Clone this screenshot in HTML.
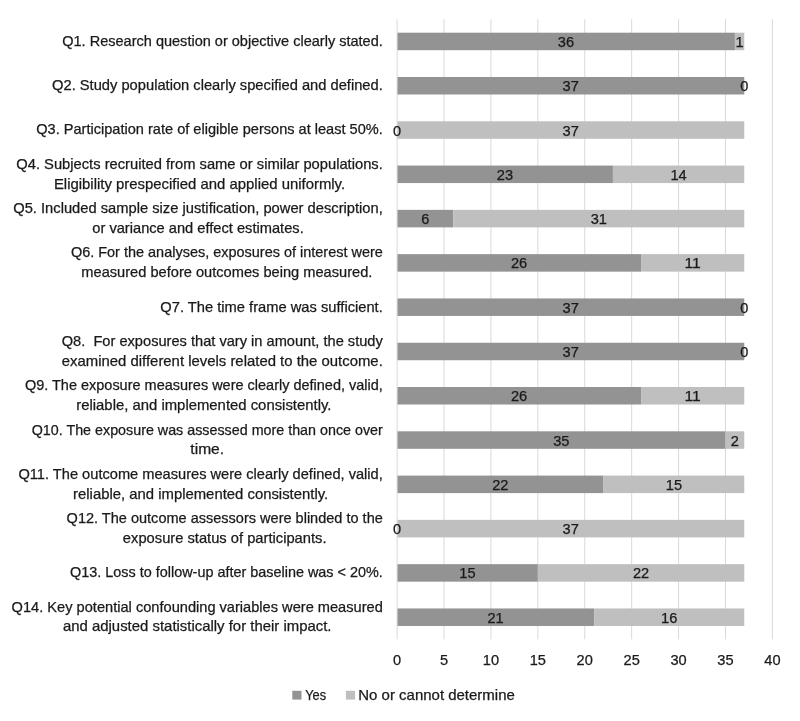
<!DOCTYPE html>
<html lang="en"><head><meta charset="utf-8"><title>Quality assessment chart</title>
<style>
html,body{margin:0;padding:0;background:#fff}
svg{display:block}
text{font-family:"Liberation Sans",Arial,sans-serif;font-size:14.1px;fill:#1a1a1a;stroke:#1a1a1a;stroke-width:0.25px;white-space:pre}
</style></head><body>
<svg width="800" height="721" viewBox="0 0 800 721">
<rect width="800" height="721" fill="#fff"/>

<g stroke="#d9d9d9" stroke-width="1">
<line x1="397.10" y1="19.30" x2="397.10" y2="639.36"/>
<line x1="444.01" y1="19.30" x2="444.01" y2="639.36"/>
<line x1="490.93" y1="19.30" x2="490.93" y2="639.36"/>
<line x1="537.85" y1="19.30" x2="537.85" y2="639.36"/>
<line x1="584.76" y1="19.30" x2="584.76" y2="639.36"/>
<line x1="631.67" y1="19.30" x2="631.67" y2="639.36"/>
<line x1="678.59" y1="19.30" x2="678.59" y2="639.36"/>
<line x1="725.50" y1="19.30" x2="725.50" y2="639.36"/>
<line x1="772.42" y1="19.30" x2="772.42" y2="639.36"/>
</g>
<rect x="397.50" y="32.70" width="337.39" height="17.5" fill="#939393"/>
<rect x="734.89" y="32.70" width="9.38" height="17.5" fill="#bfbfbf"/>
<text x="557.87" y="46.95" textLength="16.25" lengthAdjust="spacingAndGlyphs">36</text>
<text x="735.52" y="46.95" textLength="8.12" lengthAdjust="spacingAndGlyphs">1</text>
<text x="62.22" y="45.84" textLength="320.58" lengthAdjust="spacingAndGlyphs">Q1. Research question or objective clearly stated.</text>
<rect x="397.50" y="76.98" width="346.77" height="17.5" fill="#939393"/>
<text x="562.56" y="91.23" textLength="16.25" lengthAdjust="spacingAndGlyphs">37</text>
<text x="740.21" y="91.23" textLength="8.12" lengthAdjust="spacingAndGlyphs">0</text>
<text x="52.05" y="90.14" textLength="330.75" lengthAdjust="spacingAndGlyphs">Q2. Study population clearly specified and defined.</text>
<rect x="397.50" y="121.28" width="346.77" height="17.5" fill="#bfbfbf"/>
<text x="393.04" y="135.53" textLength="8.12" lengthAdjust="spacingAndGlyphs">0</text>
<text x="562.56" y="135.53" textLength="16.25" lengthAdjust="spacingAndGlyphs">37</text>
<text x="36.28" y="134.43" textLength="346.52" lengthAdjust="spacingAndGlyphs">Q3. Participation rate of eligible persons at least 50%.</text>
<rect x="397.50" y="165.56" width="215.41" height="17.5" fill="#939393"/>
<rect x="612.91" y="165.56" width="131.36" height="17.5" fill="#bfbfbf"/>
<text x="496.88" y="179.81" textLength="16.25" lengthAdjust="spacingAndGlyphs">23</text>
<text x="670.46" y="179.81" textLength="16.25" lengthAdjust="spacingAndGlyphs">14</text>
<text x="16.27" y="168.91" textLength="366.53" lengthAdjust="spacingAndGlyphs">Q4. Subjects recruited from same or similar populations.</text>
<text x="53.95" y="188.52" textLength="291.17" lengthAdjust="spacingAndGlyphs">Eligibility prespecified and applied uniformly.</text>
<rect x="397.50" y="209.86" width="55.90" height="17.5" fill="#939393"/>
<rect x="453.40" y="209.86" width="290.87" height="17.5" fill="#bfbfbf"/>
<text x="421.19" y="224.11" textLength="8.12" lengthAdjust="spacingAndGlyphs">6</text>
<text x="590.71" y="224.11" textLength="16.25" lengthAdjust="spacingAndGlyphs">31</text>
<text x="13.22" y="213.21" textLength="369.58" lengthAdjust="spacingAndGlyphs">Q5. Included sample size justification, power description,</text>
<text x="92.30" y="232.81" textLength="211.42" lengthAdjust="spacingAndGlyphs">or variance and effect estimates.</text>
<rect x="397.50" y="254.14" width="243.56" height="17.5" fill="#939393"/>
<rect x="641.06" y="254.14" width="103.21" height="17.5" fill="#bfbfbf"/>
<text x="510.95" y="268.39" textLength="16.25" lengthAdjust="spacingAndGlyphs">26</text>
<text x="684.54" y="268.39" textLength="16.25" lengthAdjust="spacingAndGlyphs">11</text>
<text x="70.93" y="257.49" textLength="311.88" lengthAdjust="spacingAndGlyphs">Q6. For the analyses, exposures of interest were</text>
<text x="81.36" y="277.09" textLength="291.00" lengthAdjust="spacingAndGlyphs">measured before outcomes being measured.</text>
<rect x="397.50" y="298.44" width="346.77" height="17.5" fill="#939393"/>
<text x="562.56" y="312.69" textLength="16.25" lengthAdjust="spacingAndGlyphs">37</text>
<text x="740.21" y="312.69" textLength="8.12" lengthAdjust="spacingAndGlyphs">0</text>
<text x="160.39" y="311.58" textLength="222.41" lengthAdjust="spacingAndGlyphs">Q7. The time frame was sufficient.</text>
<rect x="397.50" y="342.73" width="346.77" height="17.5" fill="#939393"/>
<text x="562.56" y="356.98" textLength="16.25" lengthAdjust="spacingAndGlyphs">37</text>
<text x="740.21" y="356.98" textLength="8.12" lengthAdjust="spacingAndGlyphs">0</text>
<text x="61.74" y="346.07" textLength="321.06" lengthAdjust="spacingAndGlyphs">Q8.  For exposures that vary in amount, the study</text>
<text x="61.77" y="365.68" textLength="321.00" lengthAdjust="spacingAndGlyphs">examined different levels related to the outcome.</text>
<rect x="397.50" y="387.01" width="243.56" height="17.5" fill="#939393"/>
<rect x="641.06" y="387.01" width="103.21" height="17.5" fill="#bfbfbf"/>
<text x="510.95" y="401.26" textLength="16.25" lengthAdjust="spacingAndGlyphs">26</text>
<text x="684.54" y="401.26" textLength="16.25" lengthAdjust="spacingAndGlyphs">11</text>
<text x="24.91" y="390.36" textLength="357.89" lengthAdjust="spacingAndGlyphs">Q9. The exposure measures were clearly defined, valid,</text>
<text x="76.28" y="409.96" textLength="255.14" lengthAdjust="spacingAndGlyphs">reliable, and implemented consistently.</text>
<rect x="397.50" y="431.31" width="328.00" height="17.5" fill="#939393"/>
<rect x="725.50" y="431.31" width="18.77" height="17.5" fill="#bfbfbf"/>
<text x="553.18" y="445.56" textLength="16.25" lengthAdjust="spacingAndGlyphs">35</text>
<text x="730.83" y="445.56" textLength="8.12" lengthAdjust="spacingAndGlyphs">2</text>
<text x="31.71" y="434.65" textLength="351.09" lengthAdjust="spacingAndGlyphs">Q10. The exposure was assessed more than once over</text>
<text x="190.39" y="454.25" textLength="33.73" lengthAdjust="spacingAndGlyphs">time.</text>
<rect x="397.50" y="475.60" width="206.03" height="17.5" fill="#939393"/>
<rect x="603.53" y="475.60" width="140.74" height="17.5" fill="#bfbfbf"/>
<text x="492.19" y="489.85" textLength="16.25" lengthAdjust="spacingAndGlyphs">22</text>
<text x="665.77" y="489.85" textLength="16.25" lengthAdjust="spacingAndGlyphs">15</text>
<text x="18.46" y="478.94" textLength="364.34" lengthAdjust="spacingAndGlyphs">Q11. The outcome measures were clearly defined, valid,</text>
<text x="73.06" y="498.55" textLength="255.14" lengthAdjust="spacingAndGlyphs">reliable, and implemented consistently.</text>
<rect x="397.50" y="519.88" width="346.77" height="17.5" fill="#bfbfbf"/>
<text x="393.04" y="534.13" textLength="8.12" lengthAdjust="spacingAndGlyphs">0</text>
<text x="562.56" y="534.13" textLength="16.25" lengthAdjust="spacingAndGlyphs">37</text>
<text x="66.61" y="523.24" textLength="316.19" lengthAdjust="spacingAndGlyphs">Q12. The outcome assessors were blinded to the</text>
<text x="122.89" y="542.83" textLength="203.62" lengthAdjust="spacingAndGlyphs">exposure status of participants.</text>
<rect x="397.50" y="564.17" width="140.35" height="17.5" fill="#939393"/>
<rect x="537.85" y="564.17" width="206.43" height="17.5" fill="#bfbfbf"/>
<text x="459.35" y="578.42" textLength="16.25" lengthAdjust="spacingAndGlyphs">15</text>
<text x="632.93" y="578.42" textLength="16.25" lengthAdjust="spacingAndGlyphs">22</text>
<text x="70.07" y="577.32" textLength="312.73" lengthAdjust="spacingAndGlyphs">Q13. Loss to follow-up after baseline was &lt; 20%.</text>
<rect x="397.50" y="608.46" width="196.64" height="17.5" fill="#939393"/>
<rect x="594.14" y="608.46" width="150.13" height="17.5" fill="#bfbfbf"/>
<text x="487.50" y="622.71" textLength="16.25" lengthAdjust="spacingAndGlyphs">21</text>
<text x="661.08" y="622.71" textLength="16.25" lengthAdjust="spacingAndGlyphs">16</text>
<text x="11.63" y="611.81" textLength="371.17" lengthAdjust="spacingAndGlyphs">Q14. Key potential confounding variables were measured</text>
<text x="62.94" y="631.41" textLength="268.55" lengthAdjust="spacingAndGlyphs">and adjusted statistically for their impact.</text>
<text x="393.04" y="664.60" textLength="8.12" lengthAdjust="spacingAndGlyphs">0</text>
<text x="439.95" y="664.60" textLength="8.12" lengthAdjust="spacingAndGlyphs">5</text>
<text x="482.81" y="664.60" textLength="16.25" lengthAdjust="spacingAndGlyphs">10</text>
<text x="529.72" y="664.60" textLength="16.25" lengthAdjust="spacingAndGlyphs">15</text>
<text x="576.63" y="664.60" textLength="16.25" lengthAdjust="spacingAndGlyphs">20</text>
<text x="623.55" y="664.60" textLength="16.25" lengthAdjust="spacingAndGlyphs">25</text>
<text x="670.46" y="664.60" textLength="16.25" lengthAdjust="spacingAndGlyphs">30</text>
<text x="717.38" y="664.60" textLength="16.25" lengthAdjust="spacingAndGlyphs">35</text>
<text x="764.29" y="664.60" textLength="16.25" lengthAdjust="spacingAndGlyphs">40</text>
<rect x="292.3" y="690.8" width="9.2" height="8.8" fill="#939393"/>
<text x="305.20" y="699.50" textLength="20.89" lengthAdjust="spacingAndGlyphs">Yes</text>
<rect x="345.9" y="690.8" width="9.2" height="8.8" fill="#bfbfbf"/>
<text x="358.30" y="699.50" textLength="156.53" lengthAdjust="spacingAndGlyphs">No or cannot determine</text>
</svg></body></html>
